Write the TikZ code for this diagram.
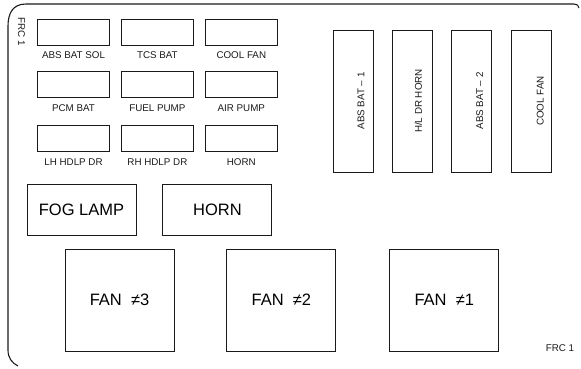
\documentclass[tikz,border=0pt]{standalone}
\usepackage{fontspec}
\setmainfont{Liberation Sans}
\usetikzlibrary{positioning}
\definecolor{Ink}{HTML}{1A1A1A}
\newcommand{\frcone}{FRC 1}

\begin{document}
\begin{tikzpicture}[x=1pt,y=-1pt,
    fuse/.style={draw=Ink,line width=0.9pt,minimum width=72pt,
                 minimum height=26pt,inner sep=0pt},
    longfuse/.style={draw=Ink,line width=0.9pt,minimum width=40pt,
                     minimum height=142pt,inner sep=0pt},
    relay/.style={draw=Ink,line width=0.9pt,minimum width=109pt,
                  minimum height=51pt,inner sep=0pt,
                  font=\fontsize{16.5}{18}\selectfont},
    fanrelay/.style={relay,minimum height=102pt},
    lbl/.style={inner sep=1pt,font=\fontsize{9.8}{11}\selectfont,text=Ink},
    vlbl/.style={lbl,rotate=90},
    frame/.style={draw=Ink,line width=1.1pt}
  ]
    \useasboundingbox (0,0) rectangle (581,368);
    % outer housing
    \draw[frame] (579,8) .. controls (578,5) .. (574,4) -- (26,4)
      .. controls (13,4) and (8,13) .. (8,26) -- (8,350)
      .. controls (8,358) and (12,363) .. (18,366);
    \node[lbl,rotate=-90] (frcleft) at (21.5,31.5) {\frcone};
    \node[lbl] (frcright) at (560,348) {\frcone};
    % mini fuses
    \node[fuse] (abssol) at (73.5,32) {};
    \node[fuse,right=11pt of abssol] (tcsbat) {};
    \node[fuse,right=11pt of tcsbat] (coolfan) {};
    \node[fuse,below=26pt of abssol] (pcmbat) {};
    \node[fuse,right=11pt of pcmbat] (fuelpump) {};
    \node[fuse,right=11pt of fuelpump] (airpump) {};
    \node[fuse,below=27pt of pcmbat] (lhhdlp) {};
    \node[fuse,right=11pt of lhhdlp] (rhhdlp) {};
    \node[fuse,right=11pt of rhhdlp] (hornfuse) {};
    \node[lbl,below=5pt of abssol] {ABS BAT SOL};
    \node[lbl,below=5pt of tcsbat] {TCS BAT};
    \node[lbl,below=5pt of coolfan] {COOL FAN};
    \node[lbl,below=5pt of pcmbat] {PCM BAT};
    \node[lbl,below=5pt of fuelpump] {FUEL PUMP};
    \node[lbl,below=5pt of airpump] {AIR PUMP};
    \node[lbl,below=5pt of lhhdlp] {LH HDLP DR};
    \node[lbl,below=5pt of rhhdlp] {RH HDLP DR};
    \node[lbl,below=5pt of hornfuse] {HORN};
    % maxi fuses
    \node[longfuse] (absbatone) at (353,101) {};
    \node[longfuse,right=18.5pt of absbatone] (hldrhorn) {};
    \node[longfuse,right=18.5pt of hldrhorn] (absbattwo) {};
    \node[longfuse,right=18.5pt of absbattwo] (coolfanmaxi) {};
    \node[vlbl] at ([xshift=8pt]absbatone.center) {ABS BAT -- 1};
    \node[vlbl] at ([xshift=6pt]hldrhorn.center) {H/L DR HORN};
    \node[vlbl] at ([xshift=8pt]absbattwo.center) {ABS BAT -- 2};
    \node[vlbl] at ([xshift=9pt]coolfanmaxi.center) {COOL FAN};
    % relays
    \node[relay] (foglamp) at (81.5,209.5) {FOG LAMP};
    \node[relay,right=26pt of foglamp] (horn) {HORN};
    \node[fanrelay] (fanthree) at (119.5,300) {FAN\ \ ≠3};
    \node[fanrelay,right=52pt of fanthree] (fantwo) {FAN\ \ ≠2};
    \node[fanrelay,right=53pt of fantwo] (fanone) {FAN\ \ ≠1};
  \end{tikzpicture}
\end{document}
